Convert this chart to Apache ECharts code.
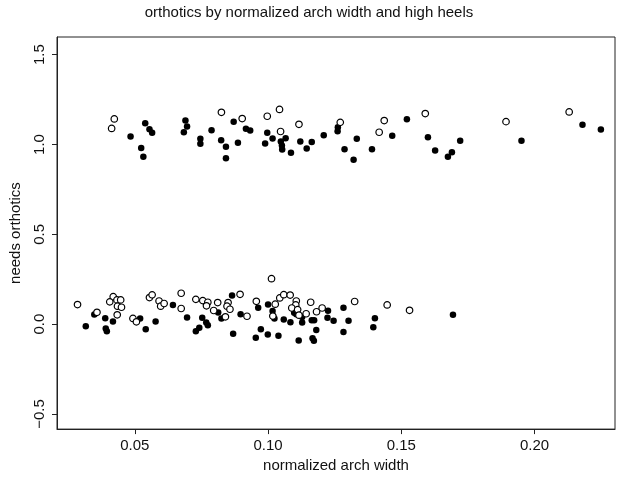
<!DOCTYPE html>
<html>
<head>
<meta charset="utf-8">
<script src="https://cdn.jsdelivr.net/npm/echarts@6/dist/echarts.min.js"></script>
<style>
  html, body { margin: 0; padding: 0; background: #fff; }
  #chart { width: 618px; height: 478px; }
</style>
</head>
<body>
<div id="chart"></div>
<script>
// Filled circles
const filledX = [
  0.0484, 0.0539, 0.0555, 0.0565, 0.0524, 0.0532, 0.0690, 0.0696, 0.0684, 0.0746,
  0.0746, 0.0788, 0.0824, 0.0842, 0.0842, 0.0871, 0.0887, 0.0917, 0.0933, 0.0997,
  0.0989, 0.1017, 0.1048, 0.1052, 0.1053, 0.1066, 0.1086, 0.1121, 0.1145, 0.1164,
  0.1209, 0.1262, 0.1261, 0.1333, 0.1287, 0.1321, 0.1390, 0.1466, 0.1521, 0.1600,
  0.1627, 0.1675, 0.1690, 0.1721, 0.1951, 0.2180, 0.2249,
  0.0316, 0.0348, 0.0389, 0.0391, 0.0395, 0.0418, 0.0520, 0.0541, 0.0578, 0.0643,
  0.0696, 0.0753, 0.0768, 0.0774, 0.0742, 0.0729, 0.0813, 0.0825, 0.0865, 0.0897,
  0.0869, 0.0963, 0.0973, 0.0954, 0.1000, 0.1017, 0.1024, 0.0999, 0.1039, 0.1059,
  0.1084, 0.1098, 0.1106, 0.1128, 0.1128, 0.1115, 0.1164, 0.1173, 0.1181, 0.1167,
  0.1172, 0.1225, 0.1223, 0.1246, 0.1283, 0.1302, 0.1283, 0.1401, 0.1395, 0.1694
];
const filledY = [
  1.044, 1.118, 1.085, 1.065, 0.980, 0.932, 1.134, 1.100, 1.068, 1.032,
  1.004, 1.079, 1.024, 0.987, 0.923, 1.127, 1.009, 1.087, 1.077, 1.065,
  1.006, 1.033, 1.017, 0.994, 0.972, 1.035, 0.954, 1.017, 0.978, 1.013,
  1.051, 1.096, 1.074, 1.032, 0.974, 0.915, 0.974, 1.048, 1.140, 1.040,
  0.967, 0.932, 0.956, 1.020, 1.020, 1.109, 1.083,
  -0.011, 0.054, 0.033, -0.024, -0.039, 0.015, 0.032, -0.029, 0.015, 0.107,
  0.037, 0.035, 0.009, -0.006, -0.020, -0.039, 0.065, 0.032, 0.159, 0.055,
  -0.053, 0.091, -0.029, -0.075, 0.109, 0.073, 0.032, -0.057, -0.065, 0.026,
  0.011, 0.064, 0.055, 0.040, 0.009, -0.091, 0.022, 0.022, -0.033, -0.079,
  -0.092, 0.075, 0.035, 0.019, 0.091, 0.019, -0.043, 0.033, -0.017, 0.052
];
// Open circles
const openX = [
  0.0423, 0.0413, 0.0825, 0.0903, 0.0997, 0.1043, 0.1047, 0.1116, 0.1271, 0.1436,
  0.1417, 0.1590, 0.1893, 0.2130,
  0.0285, 0.0358, 0.0419, 0.0406, 0.0433, 0.0447, 0.0435, 0.0450, 0.0434, 0.0493,
  0.0506, 0.0555, 0.0565, 0.0591, 0.0597, 0.0610, 0.0674, 0.0674, 0.0729, 0.0755,
  0.0774, 0.0769, 0.0811, 0.0796, 0.0840, 0.0850, 0.0846, 0.0857, 0.0895, 0.0921,
  0.0956, 0.1013, 0.1018, 0.1027, 0.1044, 0.1059, 0.1083, 0.1106, 0.1104, 0.1089,
  0.1111, 0.1116, 0.1143, 0.1160, 0.1182, 0.1203, 0.1325, 0.1447, 0.1531
];
const openY = [
  1.142, 1.089, 1.179, 1.144, 1.157, 1.195, 1.072, 1.112, 1.123, 1.133,
  1.068, 1.172, 1.127, 1.181,
  0.109, 0.066, 0.153, 0.124, 0.135, 0.135, 0.100, 0.094, 0.052, 0.032,
  0.013, 0.148, 0.163, 0.129, 0.100, 0.115, 0.172, 0.087, 0.138, 0.131,
  0.122, 0.102, 0.120, 0.076, 0.041, 0.120, 0.100, 0.083, 0.166, 0.044,
  0.127, 0.253, 0.045, 0.111, 0.146, 0.164, 0.162, 0.129, 0.107, 0.090,
  0.081, 0.050, 0.058, 0.122, 0.069, 0.090, 0.126, 0.107, 0.077
];
const xTicks = [0.05, 0.10, 0.15, 0.20];
const yTicks = [-0.5, 0.0, 0.5, 1.0, 1.5];

const titleText = 'orthotics by normalized arch width and high heels';
const xName = 'normalized arch width';
const yName = 'needs orthotics';

const FONT = '"Liberation Sans", Arial, Helvetica, sans-serif';
const zip = (xs, ys) => xs.map((x, i) => [x, ys[i]]);

const chart = echarts.init(document.getElementById('chart'), null, { renderer: 'canvas' });
chart.setOption({
  backgroundColor: '#fff',
  animation: false,
  title: {
    text: titleText,
    left: 'center',
    top: 0,
    textStyle: { fontFamily: FONT, fontSize: 15, fontWeight: 'normal', color: '#111' }
  },
  grid: {
    left: 54, right: 3, top: 37, bottom: 47,
    show: true, borderColor: '#222', borderWidth: 1, backgroundColor: 'transparent'
  },
  xAxis: {
    type: 'value',
    min: 0.0208, max: 0.2302,
    name: xName,
    nameLocation: 'middle',
    nameGap: 26,
    nameTextStyle: { fontFamily: FONT, fontSize: 15, color: '#111' },
    splitLine: { show: false },
    axisLine: { show: true, onZero: false, lineStyle: { color: '#222', width: 1 } },
    axisTick: { show: true, inside: false, length: 5, customValues: xTicks, lineStyle: { color: '#222' } },
    axisLabel: {
      customValues: xTicks,
      margin: 9,
      fontFamily: FONT, fontSize: 15, color: '#111',
      formatter: v => v.toFixed(2)
    }
  },
  yAxis: {
    type: 'value',
    min: -0.584, max: 1.598,
    name: yName,
    nameLocation: 'middle',
    nameRotate: 90,
    nameGap: 34,
    nameTextStyle: { fontFamily: FONT, fontSize: 15, color: '#111' },
    splitLine: { show: false },
    axisLine: { show: true, onZero: false, lineStyle: { color: '#222', width: 1 } },
    axisTick: { show: true, inside: false, length: 5, customValues: yTicks, lineStyle: { color: '#222' } },
    axisLabel: {
      customValues: yTicks,
      rotate: 90,
      margin: 10,
      fontFamily: FONT, fontSize: 15, color: '#111',
      formatter: v => (v < 0 ? '\u2212' + Math.abs(v).toFixed(1) : v.toFixed(1))
    }
  },
  series: [
    {
      type: 'scatter',
      name: 'filled',
      data: zip(filledX, filledY),
      symbol: 'circle',
      symbolSize: 6.5,
      itemStyle: { color: '#000', opacity: 1 }
    },
    {
      type: 'scatter',
      name: 'open',
      data: zip(openX, openY),
      symbol: 'circle',
      symbolSize: 6.5,
      itemStyle: { color: '#fff', borderColor: '#000', borderWidth: 1.2, opacity: 1 }
    }
  ]
});
</script>
</body>
</html>
